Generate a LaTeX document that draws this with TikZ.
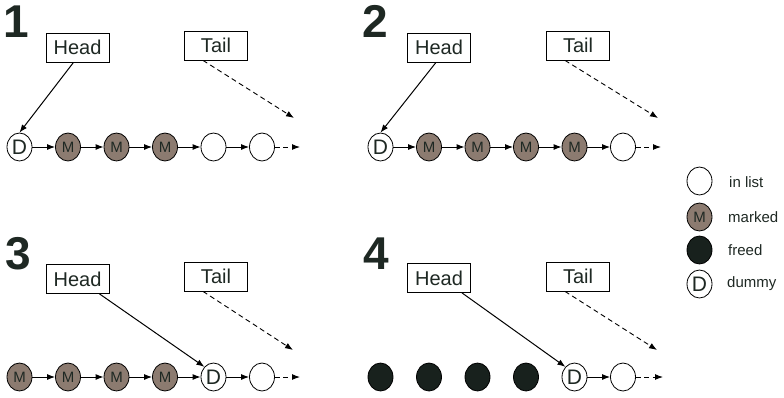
\documentclass[tikz,border=0pt]{standalone}
\usepackage{fontspec}
\setmainfont{Liberation Sans}
\usetikzlibrary{shapes.geometric,arrows.meta}

\definecolor{ink}{RGB}{30,40,35}
\definecolor{markgray}{RGB}{140,123,112}
\definecolor{freedblack}{RGB}{24,33,29}

\begin{document}
\begin{tikzpicture}[x=1pt,y=-1pt,
    every node/.style={text=ink},
    cell/.style={ellipse,draw=black,line width=0.8pt,minimum width=25pt,minimum height=28pt,inner sep=0pt},
    inlist/.style={cell,fill=white},
    marked/.style={cell,fill=markgray,font=\fontsize{15}{15}\selectfont},
    freed/.style={cell,fill=freedblack},
    dummy/.style={cell,fill=white,font=\fontsize{21}{21}\selectfont},
    ptr/.style={draw=black,line width=0.8pt,fill=white,minimum width=63pt,minimum height=29pt,inner sep=0pt,font=\fontsize{20}{20}\selectfont},
    stage/.style={inner sep=0pt,font=\fontsize{46}{46}\selectfont\bfseries},
    keytext/.style={anchor=west,inner sep=0pt,font=\fontsize{15}{15}\selectfont},
    link/.style={-{Latex[length=8pt,width=6pt]},line width=1pt},
    tailptr/.style={-{Latex[length=8pt,width=6pt]},line width=0.9pt,dash pattern=on 5pt off 3.5pt}
]
    \useasboundingbox (0,0) rectangle (784,397);

    % 1
    \node[stage] (s1) at (16,21.5) {1};
    \node[ptr] (headA) at (77.5,47.5) {Head};
    \node[ptr] (tailA) at (216,45.5) {Tail};
    \node[dummy] (a0) at (19.5,147) {D};
    \node[marked] (a1) at (68,147) {M};
    \node[marked] (a2) at (116.5,147) {M};
    \node[marked] (a3) at (165,147) {M};
    \node[inlist] (a4) at (213.5,147) {};
    \node[inlist] (a5) at (262,147) {};
    \coordinate (aend) at (300,147);
    \coordinate (atail) at (294,118);
    \foreach \p/\q in {a0/a1,a1/a2,a2/a3,a3/a4,a4/a5}
        \draw[link] (\p) -- (\q);
    \draw[link,dash pattern=on 5pt off 3.5pt] (a5) -- (aend);
    \draw[link] ([xshift=-4pt]headA.south) -- (a0.north);
    \draw[tailptr] ([xshift=-13pt]tailA.south) -- (atail);

    % 2
    \node[stage] (s2) at (375.5,21.5) {2};
    \node[ptr] (headB) at (439,47.5) {Head};
    \node[ptr] (tailB) at (578,45.5) {Tail};
    \node[dummy] (b0) at (380.5,147) {D};
    \node[marked] (b1) at (429,147) {M};
    \node[marked] (b2) at (477.5,147) {M};
    \node[marked] (b3) at (526,147) {M};
    \node[marked] (b4) at (574.5,147) {M};
    \node[inlist] (b5) at (623,147) {};
    \coordinate (bend) at (661,147);
    \coordinate (btail) at (658,118);
    \foreach \p/\q in {b0/b1,b1/b2,b2/b3,b3/b4,b4/b5}
        \draw[link] (\p) -- (\q);
    \draw[link,dash pattern=on 5pt off 3.5pt] (b5) -- (bend);
    \draw[link] ([xshift=-3pt]headB.south) -- (b0.north);
    \draw[tailptr] ([xshift=-13pt]tailB.south) -- (btail);

    % 3
    \node[stage] (s3) at (18.5,253.5) {3};
    \node[ptr] (headC) at (77.5,279) {Head};
    \node[ptr] (tailC) at (216,276.5) {Tail};
    \node[marked] (c0) at (19.5,377) {M};
    \node[marked] (c1) at (68,377) {M};
    \node[marked] (c2) at (116.5,377) {M};
    \node[marked] (c3) at (165,377) {M};
    \node[dummy] (c4) at (213.5,377) {D};
    \node[inlist] (c5) at (262,377) {};
    \coordinate (cend) at (300,377);
    \coordinate (ctail) at (293,350);
    \foreach \p/\q in {c0/c1,c1/c2,c2/c3,c3/c4,c4/c5}
        \draw[link] (\p) -- (\q);
    \draw[link,dash pattern=on 5pt off 3.5pt] (c5) -- (cend);
    \draw[link] ([xshift=22pt]headC.south) -- (c4.north west);
    \draw[tailptr] ([xshift=-13pt]tailC.south) -- (ctail);

    % 4
    \node[stage] (s4) at (376.5,253.5) {4};
    \node[ptr] (headD) at (439,278) {Head};
    \node[ptr] (tailD) at (578,276.5) {Tail};
    \node[freed] (d0) at (380.5,377) {};
    \node[freed] (d1) at (429,377) {};
    \node[freed] (d2) at (477.5,377) {};
    \node[freed] (d3) at (526,377) {};
    \node[dummy] (d4) at (574.5,377) {D};
    \node[inlist] (d5) at (623,377) {};
    \coordinate (dend) at (663,377);
    \coordinate (dtail) at (657,350);
    \draw[link] (d4) -- (d5);
    \draw[link,dash pattern=on 5pt off 3.5pt] (d5) -- (dend);
    \draw[link] ([xshift=23pt]headD.south) -- (d4.north west);
    \draw[tailptr] ([xshift=-13pt]tailD.south) -- (dtail);

    % key
    \node[inlist] (k1) at (699.5,181) {};
    \node[marked] (k2) at (699.5,217) {M};
    \node[freed] (k3) at (699.5,250) {};
    \node[dummy] (k4) at (699.5,284) {D};
    \node[keytext] (t1) at (729,182) {in list};
    \node[keytext] (t2) at (728,217) {marked};
    \node[keytext] (t3) at (728,250) {freed};
    \node[keytext] (t4) at (727,284) {dummy};

\end{tikzpicture}
\end{document}
